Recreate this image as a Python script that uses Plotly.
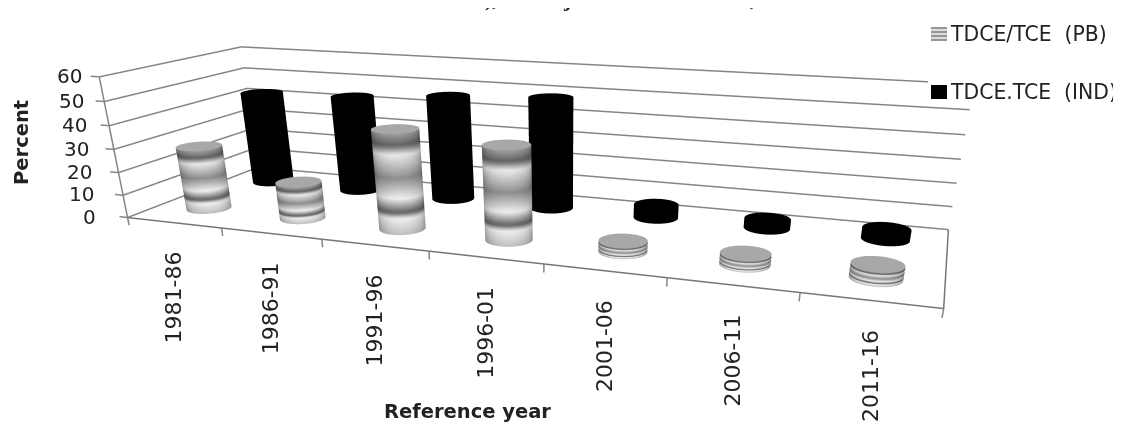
import numpy as np
import plotly.graph_objects as go

categories = ["1981-86", "1986-91", "1991-96", "1996-01", "2001-06", "2006-11", "2011-16"]
pb_values = [28, 16, 42, 39, 4.5, 4.5, 5.5]
ind_values = [43, 44, 47, 49, 5.8, 4, 4.5]
z_ticks = [0, 10, 20, 30, 40, 50, 60]
series_names = ["TDCE/TCE (PB)", "TDCE.TCE (IND)"]

# The page body has an 8 px margin; the figure is taller than the window so that
# the scene's perspective (fixed 45 degree field of view) matches the reference.
OFF = 8
FW, FH = 1113, 852
XR = [-0.09, 7.01]
YR = [-0.01, 1.01]
ZR = [-3.5, 60.5]
EYE = (0.9189, -2.352, 0.5676)
CENTER = (0.1568, -0.1595, -0.6525)
UP = (-0.0001, -0.0152, 1)
SX, SY, SZ = 2.0 / 7.09, 0.5739, 0.0057
aspect = dict(x=SX * (XR[1] - XR[0]), y=SY * (YR[1] - YR[0]), z=SZ * (ZR[1] - ZR[0]))

PB_Y, IND_Y = 0.25, 0.77
RX = 0.2
RY = RX * SX / SY
knots = [0, .06, .11, .2, .43, .63, .77, .83, 1]
vals = [.62, .5, .38, .92, .56, .94, .38, .94, .75]


def cylinder(xc, yc, h, banded):
    th = np.linspace(0, 2 * np.pi, 73)
    zs = np.linspace(h, 0, 50)
    rad = np.r_[0, 0.5, 1, np.ones(zs.size)]
    zz = np.r_[h, h, h, zs]
    X = xc + RX * np.outer(rad, np.cos(th))
    Y = yc + RY * np.outer(rad, np.sin(th))
    Z = np.outer(zz, np.ones(th.size))
    bx, by = SX * (xc - sum(XR) / 2), SY * (yc - .5)
    phi = np.arctan2(EYE[1] - by, EYE[0] - bx)
    shade = 0.6 + 0.4 * np.clip(np.cos(th - phi), 0, 1) ** 0.8
    if banded:
        C = np.outer(np.interp(1 - zs / h, knots, vals), shade)
        C = np.r_[np.full((3, th.size), .66), C]
    else:
        C = np.zeros_like(X)
    return go.Surface(x=X, y=Y, z=Z, surfacecolor=C, cmin=0, cmax=1, showscale=False,
                      colorscale=[[0, "#000"], [1, "#fff"]], hoverinfo="skip",
                      lighting=dict(ambient=1, diffuse=0, specular=0, roughness=1, fresnel=0))


fig = go.Figure()
GRID = "#858585"


def line(xs, ys, zs, col=GRID, w=3):
    fig.add_trace(go.Scatter3d(x=xs, y=ys, z=zs, mode="lines", line=dict(color=col, width=w),
                               hoverinfo="skip", showlegend=False))


for z in z_ticks:
    line([XR[0], 0, 0, 7], [0, 0, 1, 1], [z, z, z, z])
line([0, 0], [0, 0], [0, 60])
line([0, 7, 7], [0, 0, 1], [0, 0, 0], "#777777")
for i in range(len(categories) + 1):
    line([i, i], [0, 0], [0, ZR[0]])
for i in range(len(categories)):
    fig.add_trace(cylinder(i + .5, PB_Y, pb_values[i], True))
    fig.add_trace(cylinder(i + .5, IND_Y, ind_values[i], False))

ann3d = []
for z in z_ticks:
    ann3d.append(dict(x=XR[0], y=0, z=z, text=str(z), showarrow=False, xanchor="right", xshift=-21 + z * 14 / 60,
                      font=dict(family="DejaVu Sans", size=20, color="#222")))
for i, lab in enumerate(categories):
    ann3d.append(dict(x=i + .5, y=0, z=0, text=lab, showarrow=False, textangle=-90, xanchor="center", yanchor="top",
                      yshift=-27, font=dict(family="DejaVu Sans", size=22, color="#222")))


def paper(x, y):
    return (x - OFF) / FW, 1 - (y - OFF) / FH


shapes, annots = [], []


def rect(x0, y0, x1, y1, col):
    a, b = paper(x0, y0)
    c_, d = paper(x1, y1)
    shapes.append(dict(type="rect", xref="paper", yref="paper", x0=a, y0=b, x1=c_, y1=d, fillcolor=col,
                       line=dict(width=0), layer="above"))


def label(x, y, text, size, bold=False, angle=0, xanchor="center", yanchor="middle", family="DejaVu Sans"):
    a, b = paper(x, y)
    annots.append(dict(x=a, y=b, xref="paper", yref="paper", text=("<b>%s</b>" % text) if bold else text,
                       showarrow=False, textangle=angle, xanchor=xanchor, yanchor=yanchor,
                       font=dict(family=family, size=size, color="#222")))


rect(928, 76, 1121, 100, "white")
for k in range(7):
    g = int(150 + 70 * (k % 2))
    rect(931, 27 + 2 * k, 947, 29 + 2 * k, "rgb(%d,%d,%d)" % (g, g, g))
rect(931, 85, 947, 99, "#000")
label(948, 34, series_names[0].replace(" ", "&nbsp;&nbsp;"), 20.4, xanchor="left")
label(948, 92, series_names[1].replace(" ", "&nbsp;&nbsp;"), 20.4, xanchor="left")
label(21, 143, "Percent", 19.5, bold=True, angle=-90)
label(467, 411, "Reference year", 19.5, bold=True)
for x, s in ((491, "),"), (567, "j"), (753, ",")):
    label(x, 13, s, 22, bold=True, yanchor="bottom", family="Liberation Serif")

fig.update_layout(
    width=FW, height=FH, margin=dict(l=0, r=0, t=0, b=0), paper_bgcolor="white", showlegend=False,
    scene=dict(
        domain=dict(x=[0, 1], y=[0, 1]),
        xaxis=dict(visible=False, range=XR), yaxis=dict(visible=False, range=YR), zaxis=dict(visible=False, range=ZR),
        aspectmode="manual", aspectratio=aspect,
        camera=dict(eye=dict(x=EYE[0], y=EYE[1], z=EYE[2]), center=dict(x=CENTER[0], y=CENTER[1], z=CENTER[2]),
                    up=dict(x=UP[0], y=UP[1], z=UP[2]), projection=dict(type="perspective")),
        annotations=ann3d, bgcolor="rgba(0,0,0,0)",
    ),
    shapes=shapes, annotations=annots,
)
fig.write_html("out.html")
